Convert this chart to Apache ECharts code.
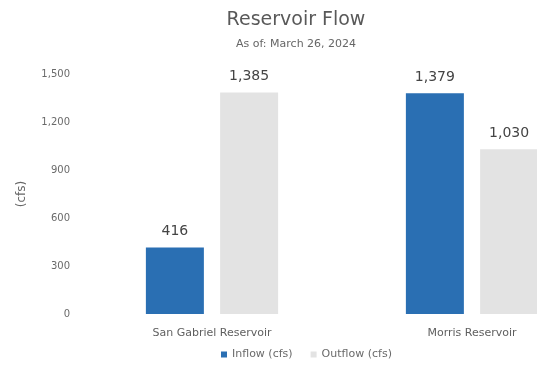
<!DOCTYPE html>
<html>
<head>
<meta charset="utf-8">
<script src="https://cdn.jsdelivr.net/npm/echarts@6/dist/echarts.min.js"></script>
<style>
  html, body { margin: 0; padding: 0; background: #ffffff; }
  #chart { width: 537px; height: 381px; }
</style>
</head>
<body>
<div id="chart"></div>
<script>
// Reservoir names on the category axis
const reservoirs = ['San Gabriel Reservoir', 'Morris Reservoir'];
// Flow values in cubic feet per second
const inflow = [416, 1379];
const outflow = [1385, 1030];
// Value axis ticks
const yTicks = [0, 300, 600, 900, 1200, 1500];

const fontFamily = '"DejaVu Sans", "Noto Sans", sans-serif';
const fmt = v => Number(v).toLocaleString('en-US');

const chart = echarts.init(document.getElementById('chart'), null, { renderer: 'canvas' });

chart.setOption({
  backgroundColor: '#ffffff',
  animation: false,
  title: {
    text: 'Reservoir Flow',
    subtext: 'As of: March 26, 2024',
    left: 291,
    textAlign: 'center',
    top: 6,
    itemGap: 9,
    textStyle: { fontFamily, fontSize: 19, fontWeight: 'normal', color: '#595959' },
    subtextStyle: { fontFamily, fontSize: 11, color: '#666666' }
  },
  legend: {
    top: 344,
    left: 216,
    itemWidth: 6,
    itemHeight: 6,
    itemGap: 18,
    icon: 'rect',
    textStyle: { fontFamily, fontSize: 11, color: '#6a6a6a' },
    data: ['Inflow (cfs)', 'Outflow (cfs)']
  },
  // plot area runs past the right edge of the canvas
  grid: { left: 82, width: 520, top: 74, height: 240, containLabel: false, outerBoundsMode: 'none' },
  xAxis: {
    type: 'category',
    data: reservoirs,
    axisLine: { show: false },
    axisTick: { show: false },
    axisLabel: { fontFamily, fontSize: 11, color: '#5f5f5f', margin: 14 }
  },
  yAxis: {
    type: 'value',
    min: yTicks[0],
    max: yTicks[yTicks.length - 1],
    interval: yTicks[1] - yTicks[0],
    name: '(cfs)',
    nameLocation: 'middle',
    nameGap: 54,
    nameRotate: 90,
    nameTextStyle: { fontFamily, fontSize: 12, color: '#666666' },
    splitLine: { show: false },
    axisLine: { show: false },
    axisTick: { show: false },
    axisLabel: { fontFamily, fontSize: 10, color: '#6a6a6a', margin: 12, formatter: v => fmt(v) }
  },
  series: [
    {
      name: 'Inflow (cfs)',
      type: 'bar',
      data: inflow,
      barWidth: 58,
      barGap: '28%',
      itemStyle: { color: '#2a6fb3' },
      label: {
        show: true, position: 'top', distance: 9,
        fontFamily, fontSize: 14, color: '#444444',
        formatter: p => fmt(p.value)
      }
    },
    {
      name: 'Outflow (cfs)',
      type: 'bar',
      data: outflow,
      barWidth: 58,
      itemStyle: { color: '#e3e3e3' },
      label: {
        show: true, position: 'top', distance: 9,
        fontFamily, fontSize: 14, color: '#444444',
        formatter: p => fmt(p.value)
      }
    }
  ]
});
</script>
</body>
</html>
